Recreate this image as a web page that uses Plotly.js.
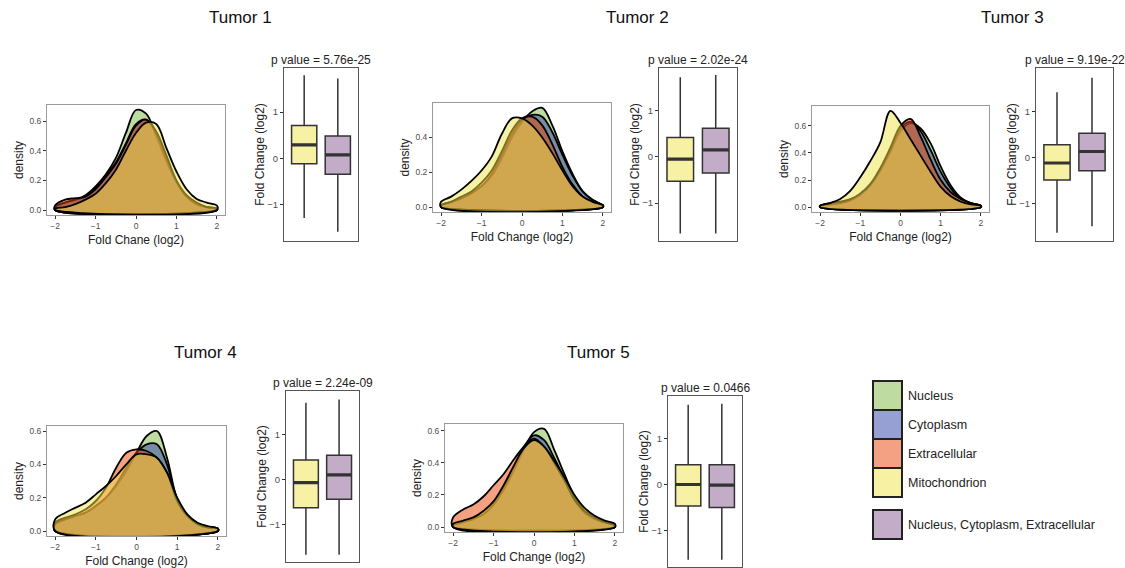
<!DOCTYPE html>
<html><head><meta charset="utf-8">
<script src="https://cdn.plot.ly/plotly-3.0.1.min.js"></script>
<style>html,body{margin:0;padding:0;background:#fff}</style>
</head><body><div id="chart" style="width:1125px;height:568px"></div>
<script>
// ---------------- DATA ----------------
const tumors = ['Tumor 1', 'Tumor 2', 'Tumor 3', 'Tumor 4', 'Tumor 5'];
const pValues = ['p value = 5.76e-25', 'p value = 2.02e-24', 'p value = 9.19e-22', 'p value = 2.24e-09', 'p value = 0.0466'];
const densityXTitles = ['Fold Chane (log2)', 'Fold Change (log2)', 'Fold Change (log2)', 'Fold Change (log2)', 'Fold Change (log2)'];
const compartments = ['Nucleus', 'Cytoplasm', 'Extracellular', 'Mitochondrion'];
const boxGroups = ['Mitochondrion', 'Nucleus, Cytoplasm, Extracellular'];
const legendLabels = ['Nucleus', 'Cytoplasm', 'Extracellular', 'Mitochondrion', 'Nucleus, Cytoplasm, Extracellular'];

// fold change grid (log2) where densities were read
const foldChange = [-2, -1.75, -1.5, -1.25, -1, -0.75, -0.5, -0.25, 0, 0.25, 0.5, 0.75, 1, 1.25, 1.5, 1.75, 2];

// densities per tumor (rows = Tumor 1..5)
const nucleusDensity = [
  [0.02,0.05,0.07,0.10,0.16,0.24,0.35,0.52,0.675,0.65,0.50,0.33,0.19,0.09,0.04,0.02,0.01],
  [0.01,0.03,0.05,0.08,0.12,0.18,0.28,0.40,0.49,0.55,0.57,0.47,0.32,0.19,0.09,0.04,0.01],
  [0.01,0.02,0.03,0.05,0.09,0.16,0.27,0.41,0.56,0.62,0.58,0.47,0.30,0.16,0.07,0.03,0.01],
  [0.04,0.07,0.09,0.11,0.15,0.20,0.27,0.36,0.47,0.57,0.60,0.44,0.19,0.09,0.045,0.025,0.015],
  [0.01,0.03,0.05,0.08,0.14,0.23,0.35,0.48,0.59,0.61,0.48,0.33,0.19,0.10,0.05,0.03,0.01]
];
const cytoplasmDensity = [
  [0.02,0.05,0.07,0.09,0.15,0.23,0.32,0.45,0.58,0.61,0.52,0.35,0.19,0.09,0.04,0.02,0.01],
  [0.01,0.03,0.05,0.08,0.12,0.19,0.30,0.42,0.50,0.53,0.52,0.43,0.30,0.18,0.09,0.04,0.01],
  [0.01,0.02,0.03,0.05,0.10,0.17,0.28,0.42,0.58,0.63,0.56,0.42,0.26,0.14,0.06,0.03,0.01],
  [0.04,0.07,0.09,0.11,0.15,0.20,0.28,0.38,0.47,0.52,0.52,0.40,0.19,0.09,0.045,0.025,0.015],
  [0.01,0.03,0.05,0.08,0.14,0.24,0.37,0.50,0.57,0.54,0.43,0.30,0.17,0.09,0.05,0.03,0.01]
];
const extracellularDensity = [
  [0.03,0.07,0.08,0.09,0.14,0.22,0.31,0.44,0.57,0.61,0.53,0.37,0.20,0.10,0.05,0.02,0.01],
  [0.01,0.03,0.06,0.09,0.14,0.21,0.32,0.44,0.51,0.52,0.47,0.36,0.23,0.13,0.06,0.03,0.01],
  [0.01,0.03,0.04,0.06,0.10,0.17,0.29,0.44,0.60,0.65,0.52,0.35,0.20,0.11,0.06,0.03,0.01],
  [0.05,0.08,0.10,0.13,0.18,0.26,0.38,0.47,0.49,0.48,0.44,0.35,0.18,0.09,0.04,0.02,0.015],
  [0.06,0.11,0.14,0.19,0.26,0.33,0.42,0.50,0.55,0.50,0.40,0.29,0.17,0.10,0.06,0.03,0.01]
];
const mitochondrionDensity = [
  [0.01,0.02,0.04,0.07,0.11,0.18,0.27,0.40,0.52,0.59,0.58,0.42,0.26,0.14,0.075,0.05,0.03],
  [0.03,0.06,0.10,0.15,0.21,0.29,0.42,0.51,0.51,0.47,0.40,0.31,0.21,0.12,0.06,0.03,0.01],
  [0.01,0.03,0.06,0.12,0.22,0.34,0.48,0.71,0.62,0.50,0.38,0.26,0.15,0.08,0.04,0.02,0.01],
  [0.07,0.11,0.14,0.17,0.22,0.27,0.33,0.40,0.46,0.46,0.44,0.35,0.20,0.10,0.05,0.03,0.015],
  [0.02,0.04,0.06,0.10,0.16,0.26,0.38,0.49,0.54,0.50,0.41,0.31,0.20,0.12,0.07,0.04,0.02]
];

// box plot statistics (log2 fold change), rows = Tumor 1..5
const mitoLower  = [-1.30, -1.66, -1.64, -1.68, -1.64];
const mitoQ1     = [-0.12, -0.53, -0.49, -0.63, -0.47];
const mitoMedian = [ 0.29, -0.05, -0.12, -0.07,  0.00];
const mitoQ3     = [ 0.71,  0.42,  0.28,  0.43,  0.43];
const mitoUpper  = [ 1.80,  1.72,  1.42,  1.71,  1.74];
const nceLower   = [-1.60, -1.66, -1.50, -1.68, -1.64];
const nceQ1      = [-0.35, -0.35, -0.29, -0.44, -0.50];
const nceMedian  = [ 0.07,  0.15,  0.13,  0.10, -0.015];
const nceQ3      = [ 0.48,  0.62,  0.53,  0.54,  0.43];
const nceUpper   = [ 1.73,  1.77,  1.74,  1.78,  1.76];

// ---------------- STYLE / LAYOUT ----------------
const W = 1125, H = 568;
const FONT = 'Liberation Sans, Arial, sans-serif';
const densityFill = ['rgba(125,183,65,0.5)', 'rgba(45,65,165,0.5)', 'rgba(233,65,5,0.5)', 'rgba(239,227,73,0.5)'];
const boxFill = ['rgba(239,227,73,0.5)', 'rgba(135,89,145,0.5)'];
const legendFill = densityFill.concat([boxFill[1]]);
// pixel frames [left, right, top, bottom]
const densityFrames = [[47,225,105,215],[433,611,103,212],[812,989,106,212],[47,226,426,536],[445,623,424,532]];
const boxFrames = [[284,358,68,241],[659,737,68,241],[1036,1113,68,241],[286,359,391,562],[668,742,396,567]];
const boxYRanges = [[-1.80,1.96],[-1.82,1.92],[-1.82,1.95],[-1.84,1.97],[-1.80,1.93]];
const titlePos = [[240,17],[637,17],[1012,17],[205,352],[598,352]];
const legendSquares = [[873,381],[873,410],[873,439],[873,468],[873,510]];
const legendSize = 29;

const px = v => v / W, py = v => 1 - v / H;

const densitySeries = [nucleusDensity, cytoplasmDensity, extracellularDensity, mitochondrionDensity];
const traces = [];
const layout = {
  width: W, height: H, margin: {l:0, r:0, t:0, b:0},
  paper_bgcolor: '#fff', plot_bgcolor: '#fff', showlegend: false,
  font: {family: FONT, color: '#000'},
  boxmode: 'overlay', annotations: [], shapes: []
};

const n = foldChange.length;
tumors.forEach((tumor, i) => {
  const a = 2 * i + 1, b = 2 * i + 2;
  const xa = 'x' + (a === 1 ? '' : a), ya = 'y' + (a === 1 ? '' : a);
  const xb = 'x' + b, yb = 'y' + b;
  let ymax = 0;
  densitySeries.forEach((series, c) => {
    const vals = series[i];
    ymax = Math.max(ymax, ...vals);
    traces.push({
      type: 'scatter', mode: 'lines', name: compartments[c], xaxis: xa, yaxis: ya,
      x: [foldChange[0]].concat(foldChange, [foldChange[n - 1], foldChange[0]]),
      y: [0].concat(vals, [0, 0]),
      fill: 'toself', fillcolor: densityFill[c],
      line: {color: '#000', width: 1.8, shape: 'spline', smoothing: 1},
      hoverinfo: 'skip'
    });
  });
  const df = densityFrames[i];
  const tickFont = {family: FONT, size: 8.5, color: '#4d4d4d'};
  layout['xaxis' + (a === 1 ? '' : a)] = {
    domain: [px(df[0]), px(df[1])], anchor: ya, range: [-2.2, 2.2], tick0: -2, dtick: 1,
    showline: true, mirror: true, linecolor: '#9a9a9a', linewidth: 1, showgrid: false, zeroline: false,
    ticks: 'outside', ticklen: 3, tickcolor: '#333', tickfont: tickFont,
    title: {text: densityXTitles[i], font: {family: FONT, size: 12, color: '#222'}, standoff: 5}
  };
  layout['yaxis' + (a === 1 ? '' : a)] = {
    domain: [py(df[3]), py(df[2])], anchor: xa, range: [-0.05 * ymax, 1.05 * ymax],
    tickvals: [0, 0.2, 0.4, 0.6], tickformat: '.1f',
    showline: true, mirror: true, linecolor: '#9a9a9a', linewidth: 1, showgrid: false, zeroline: false,
    ticks: 'outside', ticklen: 3, tickcolor: '#333', tickfont: tickFont,
    title: {text: 'density', font: {family: FONT, size: 12, color: '#222'}, standoff: 3}
  };

  // box plots
  const stats = [
    [mitoLower[i], mitoQ1[i], mitoMedian[i], mitoQ3[i], mitoUpper[i]],
    [nceLower[i], nceQ1[i], nceMedian[i], nceQ3[i], nceUpper[i]]
  ];
  stats.forEach((s, k) => {
    traces.push({
      type: 'box', name: boxGroups[k], xaxis: xb, yaxis: yb, x: [k],
      lowerfence: [s[0]], q1: [s[1]], median: [s[2]], q3: [s[3]], upperfence: [s[4]],
      width: 0.75, whiskerwidth: 0, boxpoints: false, fillcolor: boxFill[k],
      line: {color: '#333', width: 1.5}, hoverinfo: 'skip'
    });
    traces.push({
      type: 'box', name: boxGroups[k] + ' median', xaxis: xb, yaxis: yb, x: [k],
      lowerfence: [s[2]], q1: [s[2]], median: [s[2]], q3: [s[2]], upperfence: [s[2]],
      width: 0.75, whiskerwidth: 0, boxpoints: false, fillcolor: 'rgba(0,0,0,0)',
      line: {color: '#333', width: 3.2}, hoverinfo: 'skip'
    });
  });
  const bf = boxFrames[i];
  layout['xaxis' + b] = {
    domain: [px(bf[0]), px(bf[1])], anchor: yb, range: [-0.6, 1.6],
    showline: true, mirror: true, linecolor: '#555', linewidth: 1, showgrid: false, zeroline: false,
    showticklabels: false, ticks: ''
  };
  layout['yaxis' + b] = {
    domain: [py(bf[3]), py(bf[2])], anchor: xb, range: boxYRanges[i], tickvals: [-1, 0, 1],
    showline: true, mirror: true, linecolor: '#555', linewidth: 1, showgrid: false, zeroline: false,
    ticks: 'outside', ticklen: 3, tickcolor: '#333', tickfont: {family: FONT, size: 9.5, color: '#4d4d4d'},
    title: {text: 'Fold Change (log2)', font: {family: FONT, size: 12, color: '#222'}, standoff: 0}
  };

  layout.annotations.push({
    xref: 'paper', yref: 'paper', x: px((bf[0] + bf[1]) / 2), y: py(bf[2] + 1),
    xanchor: 'center', yanchor: 'bottom', showarrow: false, text: pValues[i],
    font: {family: FONT, size: 12, color: '#222'}
  });
  layout.annotations.push({
    xref: 'paper', yref: 'paper', x: px(titlePos[i][0]), y: py(titlePos[i][1]),
    xanchor: 'center', yanchor: 'middle', showarrow: false, text: tumor,
    font: {family: FONT, size: 17, color: '#111'}
  });
});

// legend
legendLabels.forEach((lab, k) => {
  const [lx, ly] = legendSquares[k];
  layout.shapes.push({
    type: 'rect', xref: 'paper', yref: 'paper',
    x0: px(lx), x1: px(lx + legendSize), y0: py(ly + legendSize), y1: py(ly),
    fillcolor: legendFill[k], line: {color: '#222', width: 2}
  });
  layout.annotations.push({
    xref: 'paper', yref: 'paper', x: px(lx + legendSize + 4), y: py(ly + legendSize / 2),
    xanchor: 'left', yanchor: 'middle', showarrow: false, text: lab,
    font: {family: FONT, size: 12.5, color: '#222'}
  });
});

Plotly.newPlot('chart', traces, layout, {staticPlot: true});
</script></body></html>
